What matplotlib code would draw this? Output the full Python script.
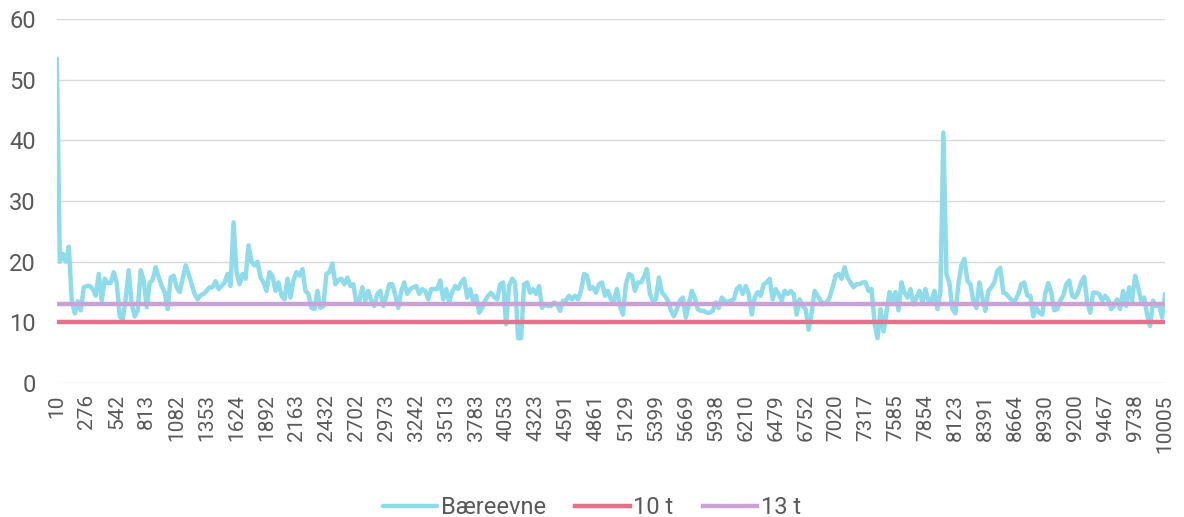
import matplotlib
matplotlib.use("Agg")
import matplotlib.pyplot as plt
import numpy as np

plt.rcParams['font.family'] = ['Roboto', 'DejaVu Sans']

tick_labels = ["10", "276", "542", "813", "1082", "1353", "1624", "1892", "2163", "2432",
               "2702", "2973", "3242", "3513", "3783", "4053", "4323", "4591", "4861", "5129",
               "5399", "5669", "5938", "6210", "6479", "6752", "7020", "7317", "7585", "7854",
               "8123", "8391", "8664", "8930", "9200", "9467", "9738", "10005"]

baereevne = [
    53.5, 20, 21.3, 20, 22.5, 13.5, 11.5, 13.5, 12, 15.8,
    16, 16, 15.5, 14.4, 18, 13.6, 17.2, 16.5, 16.5, 18.3,
    16.5, 11, 10.5, 14, 18.6, 13, 11, 12, 18.6, 17,
    12.5, 16.5, 17, 19.1, 17.5, 16, 15, 12.2, 17.4, 17.7,
    15.8, 15, 17.2, 19.4, 18, 16.3, 14.7, 13.8, 14.5, 14.7,
    15.2, 15.8, 15.8, 16.8, 15.5, 16, 16.6, 18, 16, 26.5,
    18.3, 16.3, 18, 17.2, 22.7, 20, 19.4, 20, 17.4, 16.6,
    15.2, 18.3, 17.7, 15.2, 16.6, 14.4, 13.8, 17.2, 14.1, 16.9,
    18.3, 17.7, 18.8, 15.2, 14.7, 12.4, 12.2, 15.2, 12.4, 12.7,
    18, 18.3, 19.7, 16.3, 17, 17.2, 16.3, 17.4, 16, 16.3,
    13.3, 13.6, 15.8, 13.6, 15.2, 13.6, 12.7, 14.7, 15.2, 12.7,
    14.4, 16.3, 16.3, 14.5, 12.4, 15.2, 16.6, 14.7, 15.5, 15.8,
    16, 14.7, 15.5, 15.2, 13.8, 15.5, 15.5, 15.5, 16.9, 13.8,
    15.5, 13.3, 15, 16, 15.5, 16.6, 17.2, 14.1, 15.5, 13.5,
    14.4, 11.6, 12.4, 13.6, 14.4, 14.9, 14.2, 13.8, 16.3, 16.6,
    9.7, 16, 17.2, 16.6, 7.4, 7.4, 16.3, 16.6, 14.9, 15.5,
    14.7, 16, 12.4, 13, 12.7, 12.7, 13.3, 13, 11.9, 13.6,
    13.6, 14.4, 13.8, 14.4, 13.8, 15.2, 18, 17.7, 15.5, 15.8,
    14.9, 16.3, 16.6, 14.4, 15.2, 13.8, 13.6, 15.5, 12.7, 11.3,
    16.3, 18, 17.7, 15.2, 16.6, 16.6, 17.5, 18.8, 14.7, 13.6,
    13.8, 17.4, 15, 14.4, 13.6, 12, 11, 12.2, 13.6, 14.1,
    10.8, 13, 15.2, 14.1, 12.2, 11.9, 11.9, 11.6, 11.6, 11.9,
    13.3, 12.4, 14.1, 13.6, 13.3, 13.6, 13.8, 15.5, 16, 14.7,
    16, 14.7, 11.3, 14.1, 15, 14.4, 16.3, 16.6, 17.2, 13.8,
    15.5, 14.7, 13.6, 15.2, 14.7, 15.2, 14.7, 11.3, 13.8, 12.7,
    12.2, 8.8, 11.6, 15.2, 14.4, 13.6, 13, 13.3, 14.1, 15.8,
    17.7, 18, 17.2, 19.1, 17.4, 16.6, 15.8, 16.3, 16.3, 16.6,
    16.6, 15.2, 15.5, 9.9, 7.4, 12.2, 8.5, 11.6, 15, 13.6,
    15, 12, 16.6, 14.9, 14.1, 15.5, 13, 14.1, 15.2, 13.3,
    15.5, 13.6, 13.6, 15.2, 12.2, 15, 41.3, 18, 16.5, 12.2,
    11.5, 16.3, 19.4, 20.5, 16.9, 16.3, 13.6, 12.4, 16.6, 14.1,
    11.9, 15.2, 15.8, 16.6, 18.5, 19, 14.9, 14.7, 14.1, 13.6,
    13.6, 14.7, 16.3, 16.6, 14.4, 14.4, 11, 12.4, 11.6, 11.3,
    14.7, 16.5, 15, 12, 12.2, 13.6, 14.4, 16.3, 16.9, 14.4,
    14.1, 15, 16.6, 17.5, 13.3, 11.6, 14.9, 14.9, 14.7, 13.6,
    14.4, 13.8, 12.2, 12.7, 13.8, 12.2, 15.2, 12.7, 15.8, 13.6,
    17.7, 15.8, 13.6, 14.1, 11.3, 9.4, 13.6, 12.7, 13, 10.8,
    14.7,
]
limit_10 = 10
limit_13 = 13

series_names = ["Bæreevne", "10 t", "13 t"]
colors = ["#8EDCEB", "#E3728D", "#C9A2D8"]

n = len(baereevne)
x = np.arange(n)
step = 10

fig = plt.figure(figsize=(11.84, 5.17), dpi=100)
ax = fig.add_axes([0.048, 0.259, 0.936, 0.704])

ax.plot(x, baereevne, color=colors[0], lw=3.2, label=series_names[0],
        solid_joinstyle='round', solid_capstyle='round', zorder=3)
ax.plot(x, [limit_10] * n, color=colors[1], lw=3.2, label=series_names[1], zorder=4)
ax.plot(x, [limit_13] * n, color=colors[2], lw=3.2, label=series_names[2], zorder=4)

ax.set_xlim(0, n - 1)
ax.set_ylim(0, 60)
ax.set_yticks(range(0, 61, 10))
ax.set_xticks(np.arange(0, n, step)[:len(tick_labels)])
ax.set_xticklabels(tick_labels, rotation=90)

ax.grid(axis='y', color='#D9D9D9', lw=1.0)
ax.set_axisbelow(True)
for s in ax.spines.values():
    s.set_visible(False)
ax.tick_params(axis='both', length=0, colors='#595959')
ax.tick_params(axis='x', labelsize=15, pad=8)
ax.tick_params(axis='y', labelsize=17, pad=15)

leg = fig.legend(loc='lower center', bbox_to_anchor=(0.5, -0.045), ncol=3, frameon=False,
                 fontsize=17, handlelength=2.3, columnspacing=1.25, handletextpad=0.15)
for t in leg.get_texts():
    t.set_color('#595959')

fig.savefig("out.png", dpi=100)
